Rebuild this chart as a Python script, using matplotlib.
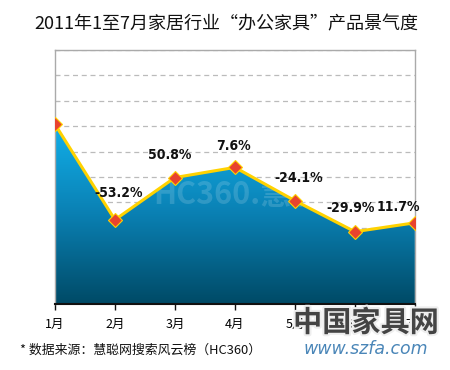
import numpy as np
import matplotlib
matplotlib.use('Agg')
import matplotlib.pyplot as plt
import matplotlib.patheffects as pe

plt.rcParams['font.family'] = ['Noto Sans CJK SC', 'DejaVu Sans']

# data (index level per month)
months = ["1月", "2月", "3月", "4月", "5月", "6月", "7月"]
values = [70.8, 33.2, 49.8, 53.8, 40.7, 28.5, 32.0]
changes = ["", "-53.2%", "50.8%", "7.6%", "-24.1%", "-29.9%", "11.7%"]
# label offsets in points (dx, dy) relative to each point
offsets = [(0, 0), (3, 14), (-4, 11), (-1, 10), (3, 11), (-3, 12), (-12, 6)]

fig = plt.figure(figsize=(4.5, 3.7), dpi=100)
ax = fig.add_axes([0.122, 0.178, 0.8, 0.687])
x = np.arange(len(months))

# gradient fill under the line
poly = ax.fill_between(x, values, 0, color="none")
grad = np.linspace(0, 1, 256).reshape(-1, 1)
cmap = matplotlib.colors.LinearSegmentedColormap.from_list(
    "blues", ["#004a66", "#0a80b3", "#12b0ea"])
img = ax.imshow(grad, cmap=cmap, aspect="auto", extent=[0, 6, 0, max(values)],
                origin="lower", zorder=1)
img.set_clip_path(poly.get_paths()[0], transform=ax.transData)

ax.plot(x, values, color="#ffd200", linewidth=2.2, zorder=3)
ax.plot(x, values, linestyle="none", marker="D", markersize=7,
        markerfacecolor="#e8432e", markeredgecolor="#ffd200",
        markeredgewidth=0.8, zorder=4)

for i, lbl in enumerate(changes):
    if not lbl:
        continue
    ax.annotate(lbl, (x[i], values[i]), xytext=offsets[i], textcoords="offset points",
                ha="center", va="bottom", fontsize=10, fontweight="bold",
                family="DejaVu Sans", stretch="condensed", color="#111111",
                zorder=5)

ax.set_xlim(0, 6)
ax.set_ylim(0, 100)
ax.set_yticks(np.arange(0, 101, 10))
ax.set_yticklabels([])
ax.tick_params(axis="y", length=3, color="#bbbbbb", direction="in")
ax.yaxis.grid(True, linestyle=(0, (4, 3)), color="#bbbbbb", linewidth=0.9)
ax.set_axisbelow(True)
ax.set_xticks(x)
ax.set_xticklabels(months, fontsize=9)
ax.tick_params(axis="x", length=4, width=1, pad=6, color="#111111")

for s in ["top", "left", "right"]:
    ax.spines[s].set_color("#aaaaaa")
    ax.spines[s].set_linewidth(1)
ax.spines["bottom"].set_color("#111111")
ax.spines["bottom"].set_linewidth(1.5)

fig.text(0.502, 0.935, "2011年1至7月家居行业“办公家具”产品景气度",
         ha="center", va="center", fontsize=13, color="#111111")
fig.text(0.045, 0.054, "* 数据来源：慧聪网搜索风云榜（HC360）",
         ha="left", va="center", fontsize=9.3, color="#111111")

# site watermark bottom right
fig.text(0.813, 0.128, "中国家具网", ha="center", va="center", fontsize=21,
         fontweight="bold", color="#444444",
         path_effects=[pe.withStroke(linewidth=3, foreground="#eeeeee")])
fig.text(0.813, 0.058, "www.szfa.com", ha="center", va="center", fontsize=12.5,
         fontstyle="italic", color="#4a86b8", family="DejaVu Sans")

# faint HC360 watermark inside the plot
ax.text(3.3, 43, "HC360.慧聪网", ha="center", va="center", fontsize=22,
        fontweight="bold", fontstyle="italic", color="white", alpha=0.15, zorder=2)

fig.savefig("out.png", dpi=100)
